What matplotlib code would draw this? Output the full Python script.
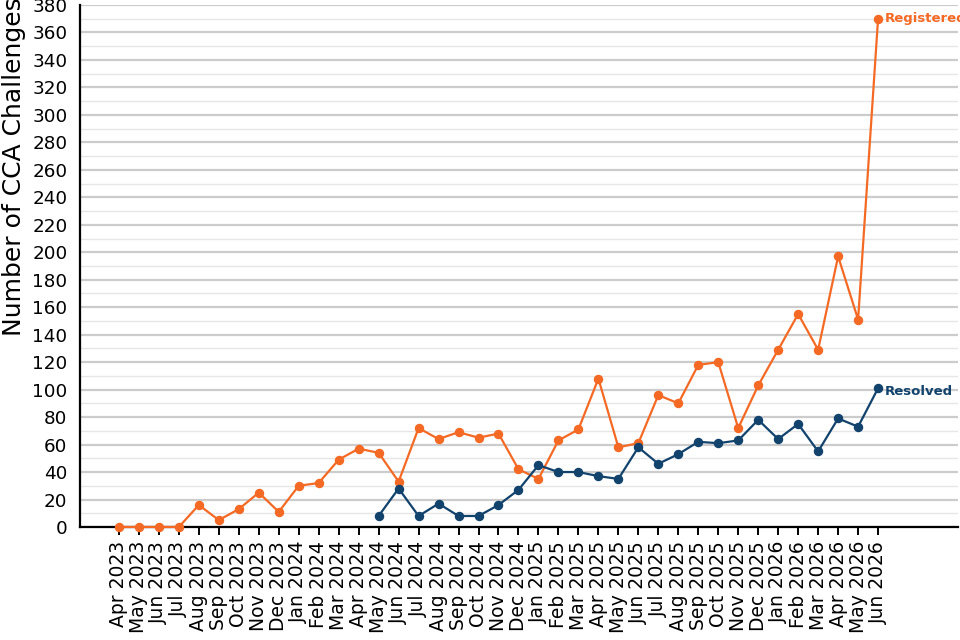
import numpy as np
import matplotlib.pyplot as plt
from matplotlib.ticker import MultipleLocator

#%% data
months = ['Apr 2023', 'May 2023', 'Jun 2023', 'Jul 2023', 'Aug 2023', 'Sep 2023',
          'Oct 2023', 'Nov 2023', 'Dec 2023', 'Jan 2024', 'Feb 2024', 'Mar 2024',
          'Apr 2024', 'May 2024', 'Jun 2024', 'Jul 2024', 'Aug 2024', 'Sep 2024',
          'Oct 2024', 'Nov 2024', 'Dec 2024', 'Jan 2025', 'Feb 2025', 'Mar 2025',
          'Apr 2025', 'May 2025', 'Jun 2025', 'Jul 2025', 'Aug 2025', 'Sep 2025',
          'Oct 2025', 'Nov 2025', 'Dec 2025', 'Jan 2026', 'Feb 2026', 'Mar 2026',
          'Apr 2026', 'May 2026', 'Jun 2026']
registered = [0, 0, 0, 0, 16, 5, 13, 25, 11, 30, 32, 49, 57, 54, 33, 72, 64, 69,
              65, 68, 42, 35, 63, 71, 108, 58, 61, 96, 90, 118, 120, 72, 103, 129,
              155, 129, 197, 151, 370]
# resolved starts in May 2024
resolved_start = 'May 2024'
resolved = [8, 28, 8, 17, 8, 8, 16, 27, 45, 40, 40, 37, 35, 58, 46, 53, 62, 61,
            63, 78, 64, 75, 55, 79, 73, 101]

orange = '#f46a25'
blue = '#12436d'

#%%
x = np.arange(len(months))
i0 = months.index(resolved_start)
xr = x[i0:i0 + len(resolved)]

fig = plt.figure(figsize=(9.6, 6.4), dpi=100)
ax = fig.add_axes([0.0833, 0.1766, 0.9146, 0.8156])

ax.plot(x, registered, color=orange, lw=1.6, marker='o', ms=5.8, zorder=3, clip_on=False)
ax.plot(xr, resolved, color=blue, lw=1.6, marker='o', ms=5.8, zorder=3, clip_on=False)

ax.annotate('Registered', (x[-1], registered[-1]), xytext=(5, 0), textcoords='offset points',
            color=orange, fontsize=9.5, fontweight='bold', va='center', annotation_clip=False)
ax.annotate('Resolved', (xr[-1], resolved[-1]), xytext=(5, -2), textcoords='offset points',
            color=blue, fontsize=9.5, fontweight='bold', va='center', annotation_clip=False)

ax.set_xlim(-1.95, 42.0)
ax.set_ylim(0, 380)
ax.set_xticks(x)
ax.set_xticklabels(months, rotation=90, fontsize=13.5)
ax.yaxis.set_major_locator(MultipleLocator(20))
ax.yaxis.set_minor_locator(MultipleLocator(10))
ax.tick_params(axis='y', which='both', length=0, labelsize=13.2, pad=9)
ax.tick_params(axis='x', length=6, width=1.4, color='black', pad=4)
ax.grid(axis='y', which='major', color='#cccccc', lw=1.6)
ax.grid(axis='y', which='minor', color='#e6e6e6', lw=1)
ax.set_axisbelow(True)
for s in ['top', 'right']:
    ax.spines[s].set_visible(False)
for s in ['left', 'bottom']:
    ax.spines[s].set_linewidth(1.6)
    ax.spines[s].set_color('black')

# y label sits high, as in the original
fig.text(0.002, 1 - 167 / 640, 'Number of CCA Challenges', rotation=90,
         fontsize=18, ha='left', va='center')

fig.savefig('out.png', dpi=100)
